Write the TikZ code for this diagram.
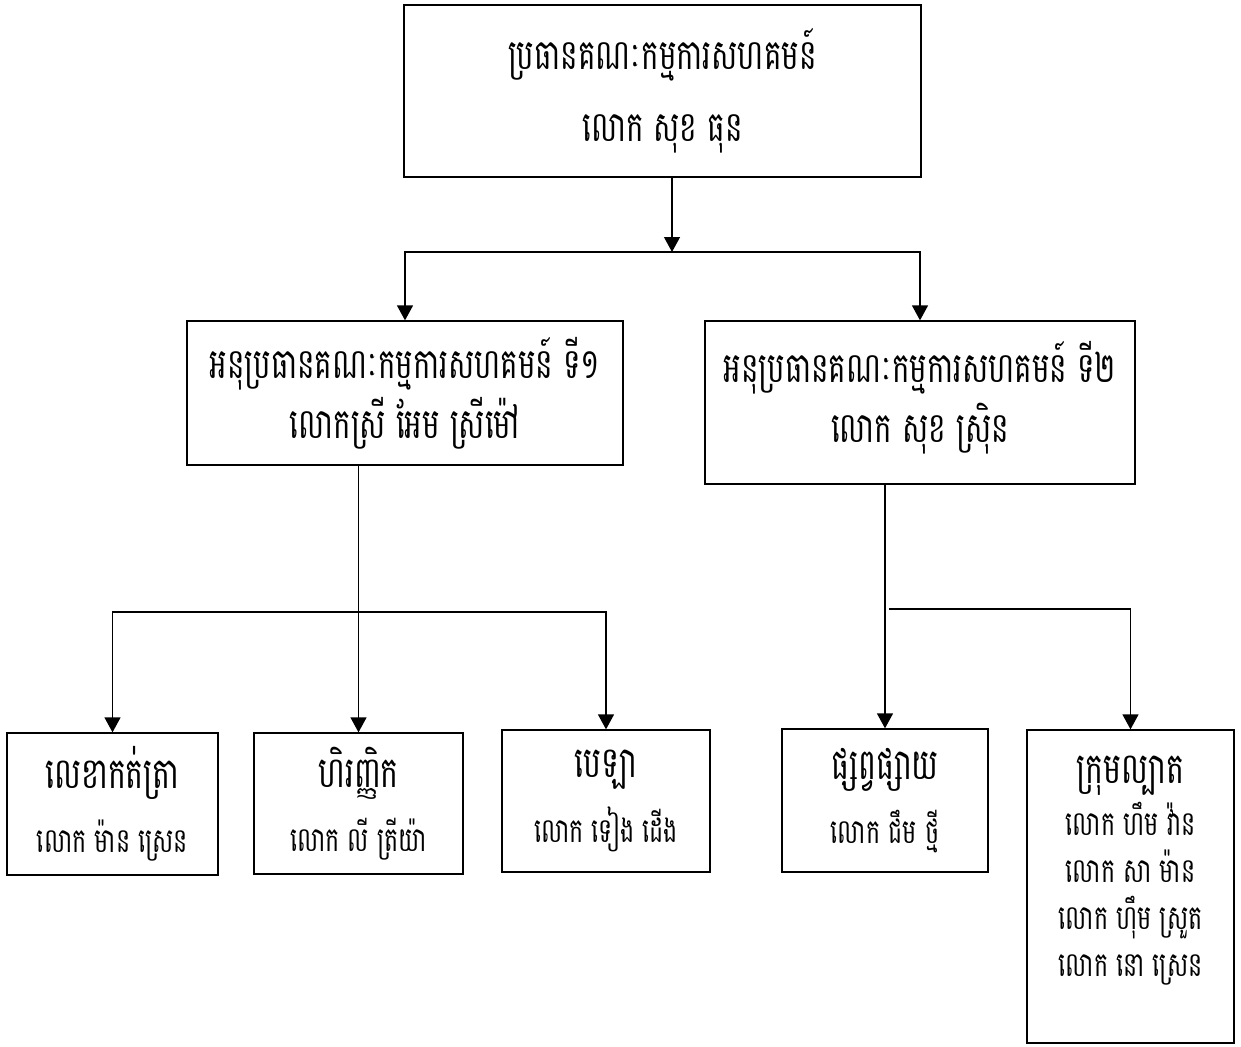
\documentclass[tikz,border=0pt]{standalone}
\usepackage{fontspec}
\newfontfamily\khmerfont[Script=Khmer, FakeStretch=0.7]{Battambang}
\usetikzlibrary{arrows.meta}

\begin{document}
\begin{tikzpicture}[x=1pt, y=-1pt,
    box/.style={draw, line width=1.3pt, inner sep=0pt, align=center},
    headtext/.style={font=\khmerfont\fontsize{42}{72}\selectfont},
    vicetext/.style={font=\khmerfont\fontsize{42}{60}\selectfont},
    unittext/.style={font=\khmerfont\fontsize{34}{47}\selectfont},
    link/.style={line width=1.3pt},
    arr/.style={line width=1.3pt, -{Triangle[length=15pt, width=16pt]}}]
    \useasboundingbox (0,0) rectangle (1241,1046);

    % Committee chairman
    \node[box, headtext, minimum width=517pt, minimum height=172pt] (chair) at (662.5, 91)
        {ប្រធានគណៈកម្មការសហគមន៍\\ លោក សុខ ធុន};

    % Deputy chairmen
    \node[box, vicetext, minimum width=436pt, minimum height=144pt] (vice1) at (405, 393)
        {អនុប្រធានគណៈកម្មការសហគមន៍ ទី១\\ លោកស្រី អែម  ស្រីម៉ៅ};
    \node[box, vicetext, text depth=22pt, minimum width=430pt, minimum height=163pt] (vice2) at (920, 402.5)
        {អនុប្រធានគណៈកម្មការសហគមន៍ ទី២\\ លោក សុខ  ស្រ៊ិន};

    % Units
    \node[box, unittext, minimum width=211pt, minimum height=142pt] (secr) at (112.5, 804)
        {{\fontsize{43}{60}\selectfont លេខាកត់ត្រា}\\[17pt] លោក ម៉ាន ស្រេន};
    \node[box, unittext, minimum width=209pt, minimum height=141pt] (treas) at (358.5, 803.5)
        {{\fontsize{43}{60}\selectfont ហិរញ្ញិក}\\[17pt] លោក លី ត្រីយ៉ា};
    \node[box, unittext, minimum width=208pt, minimum height=142pt] (cash) at (606, 801)
        {{\fontsize{43}{60}\selectfont បេឡា}\\[17pt] លោក ទៀង ដើង};
    \node[box, unittext, minimum width=206pt, minimum height=143pt] (pub) at (885, 800.5)
        {{\fontsize{43}{60}\selectfont ផ្សព្វផ្សាយ}\\[17pt] លោក ជឹម  ថ្មី};
    \node[box, unittext, text depth=40pt, minimum width=207pt, minimum height=313pt] (patrol) at (1130.5, 886.5)
        {{\fontsize{43}{60}\selectfont ក្រុមល្បាត}\\[5pt] លោក ហឹម វ៉ាន\\ លោក សា ម៉ាន\\ លោក ហ៊ឹម ស្រួត\\ លោក នោ ស្រេន};

    % Junctions
    \coordinate (j1) at (672, 252);
    \coordinate (j2) at (356, 612);
    \coordinate (j3) at (889, 609);

    \draw[arr] (chair.south -| j1) -- (j1);
    \draw[arr] (j1) -| (vice1.north);
    \draw[arr] (j1) -| (vice2.north);

    \draw[arr] (vice1.south -| treas.north) -- (treas.north);
    \draw[arr] (j2) -| (secr.north);
    \draw[arr] (j2) -| (cash.north);

    \draw[arr] (vice2.south -| pub.north) -- (pub.north);
    \draw[arr] (j3) -| (patrol.north);
\end{tikzpicture}
\end{document}
